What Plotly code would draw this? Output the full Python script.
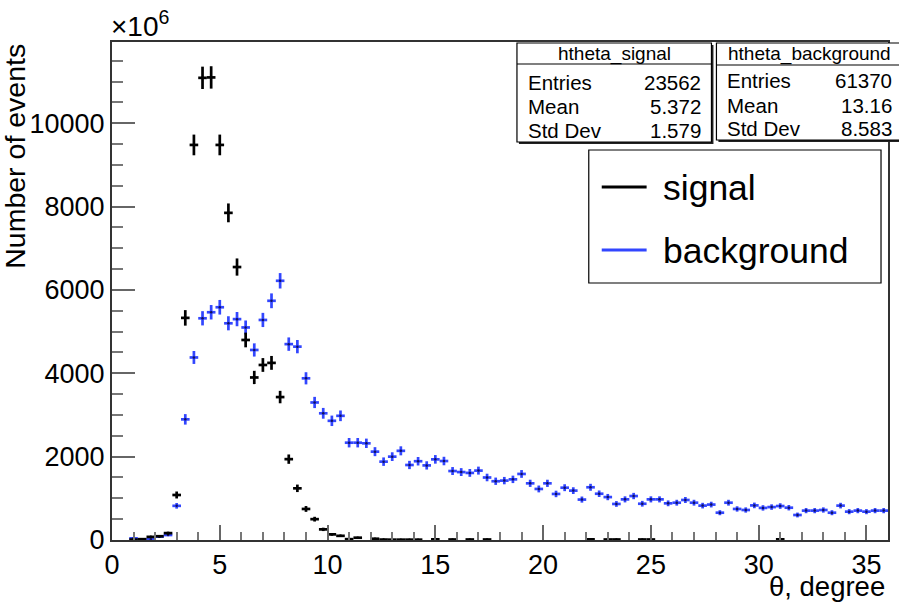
import plotly.graph_objects as go

# ---------------- data ----------------
bin_lo = 0.0
bin_width = 0.4
n_bins = 90
theta = [round(bin_lo + bin_width * (i + 0.5), 2) for i in range(n_bins)]

signal = [
    0, 0, 10, 20, 75, 90, 165, 1080, 5330, 9480,          # 0.2 - 3.8
    11090, 11100, 9480, 7850, 6550, 4800, 3900, 4200, 4250, 3430,  # 4.2 - 7.8
    1940, 1240, 745, 500, 255, 135, 100, 20, 55, 0,        # 8.2 - 11.8
    30, 10, 8, 8, 8, 8, 0, 15, 0, 12,                      # 12.2 - 15.8
    0, 12, 0, 12, 0, 0, 0, 0, 0, 0,                        # 16.2 - 19.8
    0, 0, 0, 0, 0, 15, 0, 12, 12, 0,                       # 20.2 - 23.8
    0, 12, 12, 0, 0, 0, 0, 0, 0, 0,                        # 24.2 - 27.8
    0, 0, 0, 0, 0, 0, 0, 15, 0, 0,                         # 28.2 - 31.8
    0, 0, 0, 0, 0, 0, 0, 0, 0, 0,                          # 32.2 - 35.8
]

background = [
    0, 0, 40, 10, 15, 80, 120, 820, 2895, 4380,            # 0.2 - 3.8
    5320, 5465, 5585, 5200, 5300, 5100, 4560, 5280, 5740, 6220,    # 4.2 - 7.8
    4700, 4640, 3880, 3300, 3040, 2860, 2980, 2335, 2335, 2320,    # 8.2 - 11.8
    2120, 1880, 2000, 2140, 1800, 1890, 1790, 1935, 1895, 1655,    # 12.2 - 15.8
    1630, 1610, 1665, 1500, 1410, 1425, 1455, 1585, 1360, 1225,    # 16.2 - 19.8
    1360, 1105, 1255, 1185, 970, 1265, 1110, 1030, 865, 975,       # 20.2 - 23.8
    1055, 870, 975, 975, 880, 895, 960, 895, 825, 850,             # 24.2 - 27.8
    655, 895, 745, 720, 830, 770, 790, 815, 775, 600,              # 28.2 - 31.8
    705, 705, 720, 655, 825, 680, 705, 680, 705, 705,              # 32.2 - 35.8
]

# per-entry weights (errors are sqrt(sum w^2) = sqrt(w * content))
weight_signal = 6.5
weight_background = 5.5

stats_signal = [("Entries", "23562"), ("Mean", "5.372"), ("Std Dev", "1.579")]
stats_background = [("Entries", "61370"), ("Mean", "13.16"), ("Std Dev", "8.583")]

x_range = [0, 36]
y_range = [0, 11950]

# ---------------- helpers ----------------
L, R, T, B = 112, 890, 42, 540
W, H = 899, 603


def pxx(x):
    return (x - L) / (R - L)


def pxy(y):
    return (B - y) / (B - T)


FONT = "Liberation Sans, Arial, Helvetica, sans-serif"
BLUE = "#3246ff"


def hist_trace(vals, w, color, dot):
    xs, ys, ey, ex = [], [], [], []
    for t, v in zip(theta, vals):
        if v <= 0:
            continue
        xs.append(t)
        ys.append(v)
        ey.append((w * v) ** 0.5)
        ex.append(bin_width / 2)
    return go.Scatter(
        x=xs, y=ys, mode="markers",
        marker=dict(size=2.5, color=dot),
        error_y=dict(type="data", array=ey, visible=True, width=0,
                     thickness=2.7, color=color),
        error_x=dict(type="data", array=ex, visible=True, width=0,
                     thickness=2.7, color=color),
        showlegend=False, hoverinfo="skip",
    )


fig = go.Figure()
fig.add_trace(hist_trace(background, weight_background, BLUE, "#101060"))
fig.add_trace(hist_trace(signal, weight_signal, "#000000", "#000000"))

shapes = []
annotations = []


def rect(x0, y0, x1, y1, lw=1.2, color="#000", fill="white", shadow=True):
    if shadow:
        shapes.append(dict(type="rect", xref="paper", yref="paper",
                           x0=pxx(x0 + 2), x1=pxx(x1 + 2), y0=pxy(y1 + 2), y1=pxy(y0 + 2),
                           line=dict(width=0), fillcolor="#222"))
    shapes.append(dict(type="rect", xref="paper", yref="paper",
                       x0=pxx(x0), x1=pxx(x1), y0=pxy(y1), y1=pxy(y0),
                       line=dict(width=lw, color=color), fillcolor=fill))


def hline(x0, x1, y, lw=1.2, color="#000"):
    shapes.append(dict(type="line", xref="paper", yref="paper",
                       x0=pxx(x0), x1=pxx(x1), y0=pxy(y), y1=pxy(y),
                       line=dict(width=lw, color=color)))


def text(x, y, s, size, xanchor="left", yanchor="middle", angle=0, color="#000"):
    annotations.append(dict(xref="paper", yref="paper", x=pxx(x), y=pxy(y),
                            text=s, showarrow=False, xanchor=xanchor, yanchor=yanchor,
                            textangle=angle, font=dict(family=FONT, size=size, color=color)))


# stats boxes
def stats_box(x0, x1, y0, y1, ydiv, title, rows, rows_y):
    rect(x0, y0, x1, y1)
    hline(x0, x1, ydiv)
    text((x0 + x1) / 2, (y0 + ydiv) / 2 + 0.5, title, 19, xanchor="center")
    for (lab, val), yy in zip(rows, rows_y):
        text(x0 + 9, yy, lab, 20.5)
        text(x1 - 8, yy, val, 20.5, xanchor="right")


stats_box(518, 713, 43, 142, 64, "htheta_signal", stats_signal, [82, 106, 130])
stats_box(718, 904, 43, 140, 65, "htheta_background", stats_background, [81, 105, 129])

# legend
rect(590, 150, 883, 283, lw=1.2, shadow=False)
hline(603, 648, 187, lw=3, color="#000")
hline(603, 648, 250, lw=3, color=BLUE)
text(662, 188, "signal", 35.5)
text(662, 251, "background", 35.5)

# axis titles and exponent
text(14, 42, "Number of events", 28.5, xanchor="center", yanchor="top", angle=-90)
text(889, 586, "θ, degree", 27.5, xanchor="right")
text(109, 24, "×10<sup>6</sup>", 28)

fig.update_layout(
    width=W, height=H,
    margin=dict(l=L, r=W - R, t=T, b=H - B, pad=0),
    paper_bgcolor="white", plot_bgcolor="white",
    font=dict(family=FONT, size=26, color="#000"),
    shapes=shapes, annotations=annotations,
    showlegend=False,
)
fig.update_xaxes(
    range=x_range, showgrid=False, zeroline=False,
    showline=True, mirror=True, linecolor="#333", linewidth=2,
    ticks="inside", ticklen=15, tickwidth=2, tickcolor="#666",
    tick0=0, dtick=5, tickfont=dict(size=27, family=FONT),
    minor=dict(ticks="inside", dtick=1, ticklen=8, tickwidth=2, tickcolor="#777", showgrid=False),
)
fig.update_yaxes(
    range=y_range, showgrid=False, zeroline=False,
    showline=True, mirror=True, linecolor="#333", linewidth=2,
    ticks="inside", ticklen=23, tickwidth=2, tickcolor="#666",
    tick0=0, dtick=2000, tickformat="d", tickfont=dict(size=27, family=FONT),
    minor=dict(ticks="inside", dtick=500, ticklen=11, tickwidth=2, tickcolor="#777", showgrid=False),
)

fig.write_html("out.html")
